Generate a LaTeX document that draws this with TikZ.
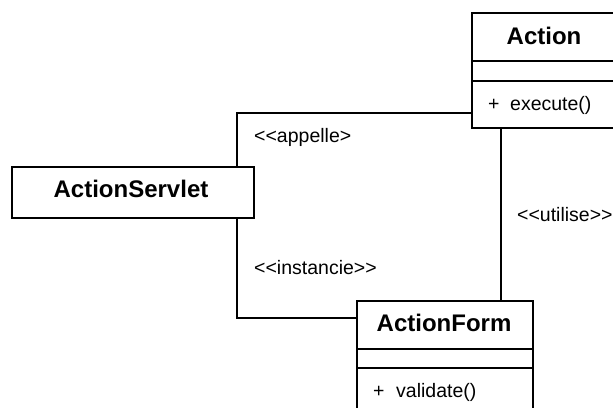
\documentclass[tikz,border=0pt]{standalone}
\usepackage{fontspec}
\setmainfont{Liberation Sans}
\begin{document}
\begin{tikzpicture}[x=1pt,y=-1pt,
  box/.style={draw,line width=1.6pt,fill=white,inner sep=0pt},
  title/.style={font=\fontsize{24}{28}\selectfont\bfseries,inner sep=0pt},
  small/.style={font=\fontsize{19.5}{22}\selectfont,inner sep=0pt,anchor=west},
  conn/.style={line width=1.6pt}]
\clip (0,0) rectangle (613,407);
\fill[white] (0,0) rectangle (613,407);
% connectors
\coordinate (c1) at (237,113);
\coordinate (c2) at (237,318);
\coordinate (c3) at (501,0);
% boxes
\node[box,minimum width=144pt,minimum height=115pt] (action) at (544,70.5) {};
\node[box,minimum width=242pt,minimum height=51pt] (servlet) at (133,192.5) {};
\node[box,minimum width=176pt,minimum height=114pt] (form) at (445,358) {};
\draw[conn] (c1 -| action.west) -- (c1) -- (c1 |- servlet.north);
\draw[conn] (c2 |- servlet.south) -- (c2) -- (c2 -| form.west);
\draw[conn] (c3 |- action.south) -- (c3 |- form.north);
% dividers
\coordinate (a1) at (0,61);
\coordinate (a2) at (0,81);
\coordinate (f1) at (0,349);
\coordinate (f2) at (0,368);
\draw[conn] (a1 -| action.west) -- (a1 -| action.east);
\draw[conn] (a2 -| action.west) -- (a2 -| action.east);
\draw[conn] (f1 -| form.west) -- (f1 -| form.east);
\draw[conn] (f2 -| form.west) -- (f2 -| form.east);
% texts
\node[title] (tact) at (544,36) {Action};
\node[title] (tserv) at (131,189) {ActionServlet};
\node[title] (tform) at (444,323) {ActionForm};
\node[small] (pa) at (488,105) {+};
\node[small] (ma) at (510,105) {execute()};
\node[small] (pf) at (373,392) {+};
\node[small] (mf) at (396,392) {validate()};
\node[small] (l1) at (254,137) {{<}{<}appelle{>}};
\node[small] (l2) at (254,268) {{<}{<}instancie{>}{>}};
\node[small] (l3) at (517,215) {{<}{<}utilise{>}{>}};
\end{tikzpicture}
\end{document}
